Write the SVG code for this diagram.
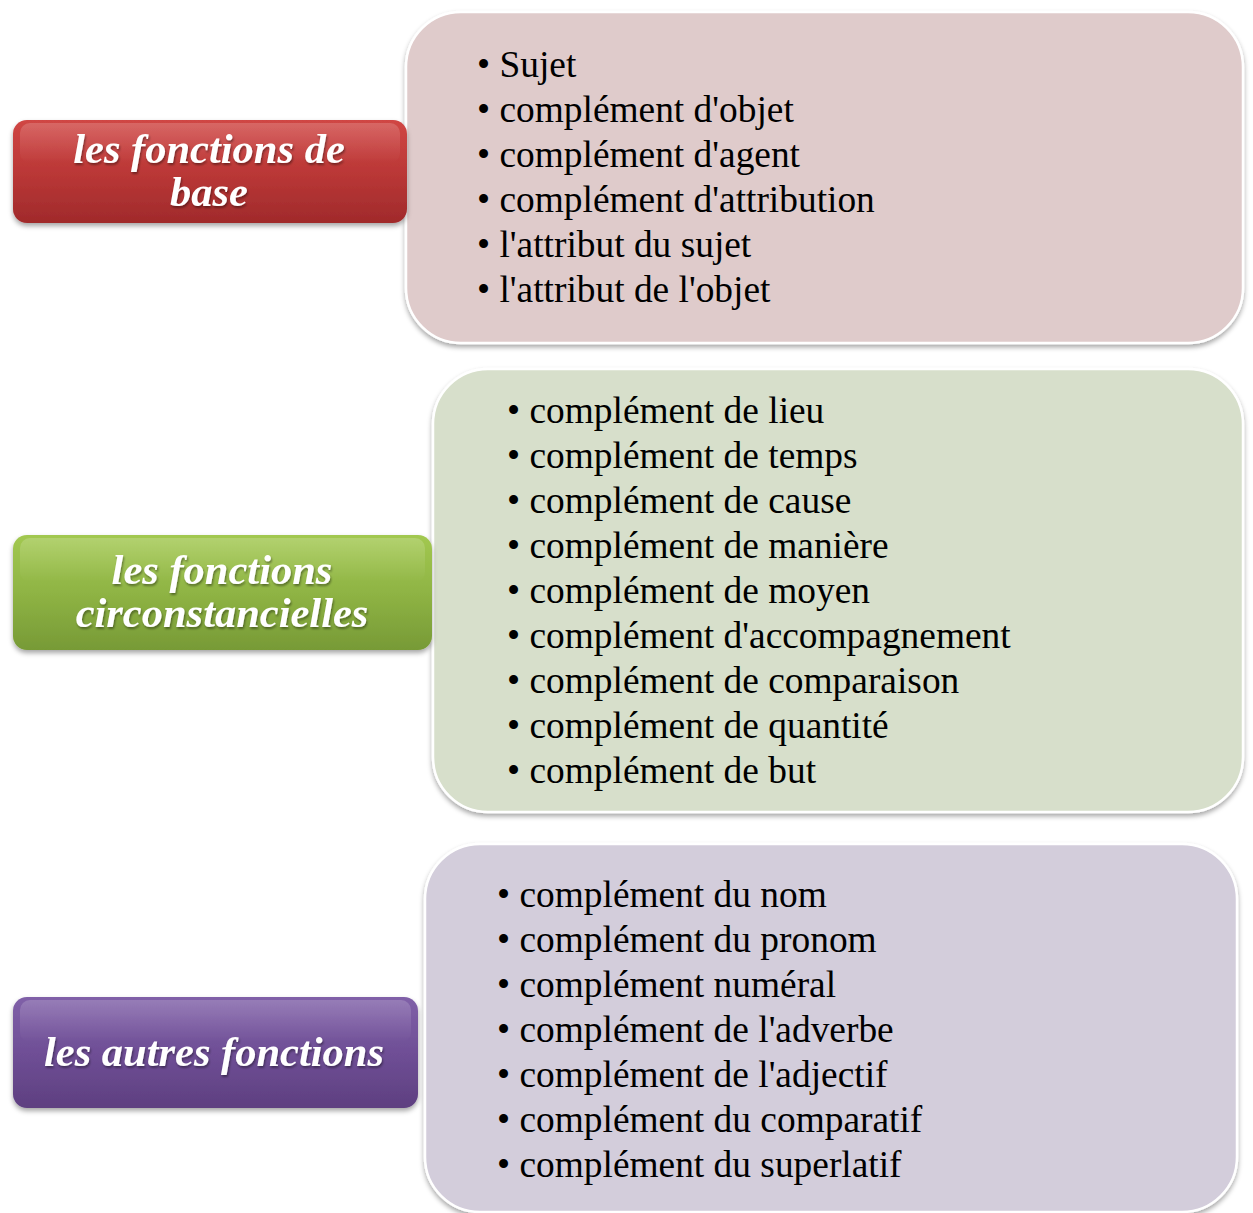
<svg xmlns="http://www.w3.org/2000/svg" width="1253" height="1213" viewBox="0 0 1253 1213">
<defs>
<filter id="sh" x="-5%" y="-5%" width="110%" height="115%">
<feDropShadow dx="0" dy="3" stdDeviation="2.5" flood-color="#000" flood-opacity="0.35"/>
</filter>
<filter id="tsh" x="-5%" y="-10%" width="110%" height="130%">
<feDropShadow dx="1" dy="2" stdDeviation="1" flood-color="#000" flood-opacity="0.4"/>
</filter>
<linearGradient id="gRed" x1="0" y1="0" x2="0" y2="1">
<stop offset="0" stop-color="#d04644"/><stop offset="0.5" stop-color="#bb3837"/><stop offset="1" stop-color="#a02a2b"/>
</linearGradient>
<linearGradient id="gGreen" x1="0" y1="0" x2="0" y2="1">
<stop offset="0" stop-color="#a2c850"/><stop offset="0.5" stop-color="#8fb444"/><stop offset="1" stop-color="#779a36"/>
</linearGradient>
<linearGradient id="gPurple" x1="0" y1="0" x2="0" y2="1">
<stop offset="0" stop-color="#8060a8"/><stop offset="0.5" stop-color="#6f4f96"/><stop offset="1" stop-color="#5e3f80"/>
</linearGradient>
<linearGradient id="gloss" x1="0" y1="0" x2="0" y2="1">
<stop offset="0" stop-color="#fff" stop-opacity="0.18"/><stop offset="1" stop-color="#fff" stop-opacity="0"/>
</linearGradient>
</defs>
<style>
.big{stroke:#ffffff;stroke-width:2.5;filter:url(#sh)}
.lbl{filter:url(#sh)}
.gl{fill:url(#gloss)}
.lt{font-family:"Liberation Serif","Times New Roman",serif;font-size:42.5px;font-weight:bold;font-style:italic;fill:#ffffff;text-anchor:middle;filter:url(#tsh)}
.it{font-family:"Liberation Serif","Times New Roman",serif;font-size:37.4px;fill:#000000}
</style>
<rect width="1253" height="1213" fill="#ffffff"/>
<g id="connectors"></g>

<g id="box-base">
<rect class="big" x="406" y="12" width="837" height="331" rx="55" fill="#dfcbcb"/>
<text class="it">
<tspan x="477" y="77">• Sujet</tspan>
<tspan x="477" y="122">• complément d'objet</tspan>
<tspan x="477" y="167">• complément d'agent</tspan>
<tspan x="477" y="212">• complément d'attribution</tspan>
<tspan x="477" y="257">• l'attribut du sujet</tspan>
<tspan x="477" y="302">• l'attribut de l'objet</tspan>
</text>
</g>

<g id="box-circ">
<rect class="big" x="433" y="369" width="810" height="443" rx="55" fill="#d7dfcb"/>
<text class="it">
<tspan x="507" y="423">• complément de lieu</tspan>
<tspan x="507" y="468">• complément de temps</tspan>
<tspan x="507" y="513">• complément de cause</tspan>
<tspan x="507" y="558">• complément de manière</tspan>
<tspan x="507" y="603">• complément de moyen</tspan>
<tspan x="507" y="648">• complément d'accompagnement</tspan>
<tspan x="507" y="693">• complément de comparaison</tspan>
<tspan x="507" y="738">• complément de quantité</tspan>
<tspan x="507" y="783">• complément de but</tspan>
</text>
</g>

<g id="box-autres">
<rect class="big" x="425" y="844" width="812" height="368" rx="55" fill="#d3cddb"/>
<text class="it">
<tspan x="497" y="907">• complément du nom</tspan>
<tspan x="497" y="952">• complément du pronom</tspan>
<tspan x="497" y="997">• complément numéral</tspan>
<tspan x="497" y="1042">• complément de l'adverbe</tspan>
<tspan x="497" y="1087">• complément de l'adjectif</tspan>
<tspan x="497" y="1132">• complément du comparatif</tspan>
<tspan x="497" y="1177">• complément du superlatif</tspan>
</text>
</g>

<g id="label-base">
<rect class="lbl" x="13" y="120" width="394" height="103" rx="14" fill="url(#gRed)"/>
<rect class="gl" x="20" y="123" width="380" height="40" rx="10"/>
<text class="lt"><tspan x="209" y="163">les fonctions de</tspan><tspan x="209" y="206">base</tspan></text>
</g>

<g id="label-circ">
<rect class="lbl" x="13" y="535" width="419" height="115" rx="14" fill="url(#gGreen)"/>
<rect class="gl" x="20" y="538" width="405" height="44" rx="10"/>
<text class="lt"><tspan x="222" y="584">les fonctions</tspan><tspan x="222" y="627">circonstancielles</tspan></text>
</g>

<g id="label-autres">
<rect class="lbl" x="13" y="997" width="405" height="111" rx="14" fill="url(#gPurple)"/>
<rect class="gl" x="20" y="1000" width="391" height="42" rx="10"/>
<text class="lt"><tspan x="214" y="1066">les autres fonctions</tspan></text>
</g>
</svg>
